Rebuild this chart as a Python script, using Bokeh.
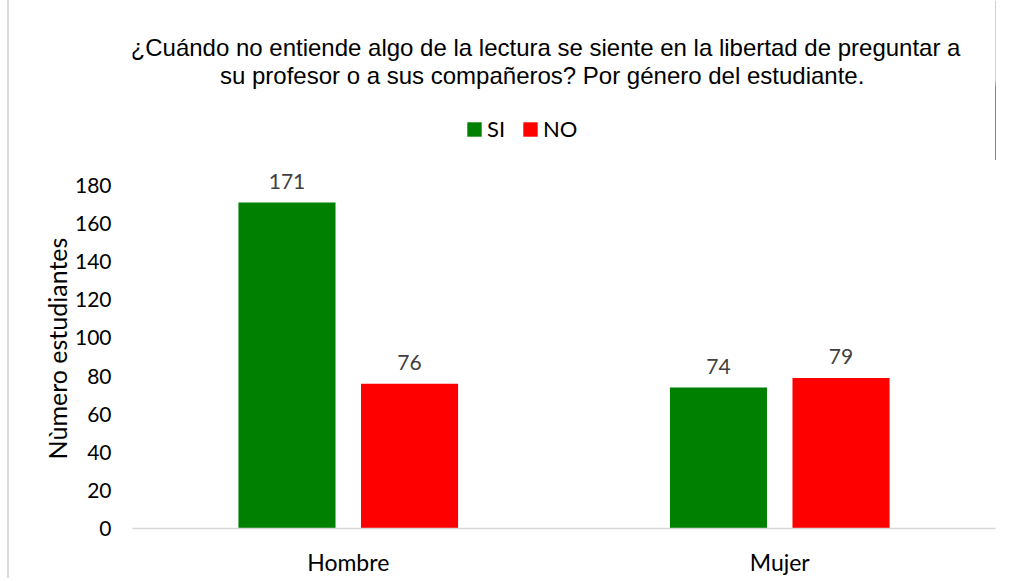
from bokeh.plotting import figure
from bokeh.layouts import column
from bokeh.models import Range1d, FixedTicker, Legend, LegendItem, ColumnDataSource
from bokeh.transform import dodge
from bokeh.core.properties import value
from bokeh.embed import file_html
from bokeh.resources import INLINE

categories = ["Hombre", "Mujer"]
si_values = [171, 74]
no_values = [76, 79]
y_ticks = [0, 20, 40, 60, 80, 100, 120, 140, 160, 180]
series_names = ["SI", "NO"]
title_lines = [
    "¿Cuándo no entiende algo de la lectura se siente en la libertad de preguntar a",
    "su profesor  o a sus compañeros? Por género del estudiante.",
]
y_label = "Nùmero estudiantes"

GREEN = "#008000"
RED = "#FF0000"
FONT = "Lato"

cat_x = [i + 0.5 for i in range(len(categories))]
src = ColumnDataSource(dict(
    x=cat_x,
    si=si_values,
    no=no_values,
    si_lbl=[str(v) for v in si_values],
    no_lbl=[str(v) for v in no_values],
))

W = 992
LEFT = 123                  # figure px where the category axis starts
CAT_PX = 431.5              # px per category
PX_PER_UNIT = 1.906
HEAD_H = 160
MAIN_TOP = 8
MAIN_FRAME_H = 360
MAIN_BOTTOM = 50
box_style = {"margin-left": "7px", "border-left": "2px solid #d9d9d9"}

# ---------- header: title + legend (frame aligned with the chart below) ----------
head = figure(width=W, height=HEAD_H,
              x_range=Range1d(0, len(categories)),
              y_range=Range1d(0, HEAD_H),
              x_axis_location=None, y_axis_location=None,
              output_backend="svg", toolbar_location=None,
              min_border=0)
head.styles = box_style
head.xgrid.visible = False
head.ygrid.visible = False
head.outline_line_color = None

title_x = (545 - 132) / CAT_PX
tsrc = ColumnDataSource(dict(x=[title_x] * len(title_lines),
                             y=[HEAD_H - 47, HEAD_H - 75], t=title_lines))
head.text(x="x", y="y", text="t", source=tsrc, text_align="center",
          text_baseline="middle", text_font=value("Liberation Sans"),
          text_font_size="24px", text_color="#000000")

# legend keys: the same series, with zero width so only the legend swatch shows
k_si = head.vbar(x=dodge("x", 10, range=head.x_range), top="si", width=0,
                 source=src, fill_color=GREEN, line_color=None)
k_no = head.vbar(x=dodge("x", 10, range=head.x_range), top="no", width=0,
                 source=src, fill_color=RED, line_color=None)
legend = Legend(items=[LegendItem(label=series_names[0], renderers=[k_si]),
                       LegendItem(label=series_names[1], renderers=[k_no])],
                orientation="horizontal", location=(333, 18),
                glyph_width=18, glyph_height=18,
                label_text_font=FONT, label_text_font_size="22px",
                label_text_color="#000000",
                padding=0, margin=0, spacing=14, label_standoff=4,
                border_line_color=None, background_fill_alpha=0)
head.add_layout(legend)

# ---------- main chart ----------
p = figure(width=W, height=MAIN_TOP + MAIN_FRAME_H + MAIN_BOTTOM,
           x_range=Range1d(0, len(categories)),
           y_range=Range1d(0, MAIN_FRAME_H / PX_PER_UNIT),
           output_backend="svg", toolbar_location=None,
           min_border_left=LEFT, min_border_right=W - LEFT - int(2 * CAT_PX),
           min_border_top=MAIN_TOP, min_border_bottom=MAIN_BOTTOM)
p.styles = box_style
p.xgrid.visible = False
p.ygrid.visible = False
p.outline_line_color = None

off = 0.142
bw = 0.225
p.vbar(x=dodge("x", -off, range=p.x_range), top="si", width=bw,
       source=src, fill_color=GREEN, line_color=None)
p.vbar(x=dodge("x", off, range=p.x_range), top="no", width=bw,
       source=src, fill_color=RED, line_color=None)

for col, lbl, o in (("si", "si_lbl", -off), ("no", "no_lbl", off)):
    p.text(x=dodge("x", o, range=p.x_range), y=col, text=lbl, source=src,
           y_offset=-21, text_align="center", text_baseline="middle",
           text_font=value(FONT), text_font_size="21px", text_color="#404040")

for ax in (p.xaxis, p.yaxis):
    ax.major_tick_out = 0
    ax.major_tick_in = 0
    ax.minor_tick_out = 0
    ax.minor_tick_in = 0
    ax.major_tick_line_color = None
    ax.minor_tick_line_color = None

p.xaxis.ticker = FixedTicker(ticks=cat_x)
p.xaxis.major_label_overrides = {x: c for x, c in zip(cat_x, categories)}
p.xaxis.axis_line_color = "#d9d9d9"
p.xaxis.axis_line_width = 1.5
p.xaxis.major_label_standoff = 19
p.xaxis.major_label_text_font = FONT
p.xaxis.major_label_text_font_size = "23px"
p.xaxis.major_label_text_color = "#000000"

p.yaxis.ticker = FixedTicker(ticks=y_ticks)
p.yaxis.axis_line_color = None
p.yaxis.major_label_standoff = 21
p.yaxis.major_label_text_font = FONT
p.yaxis.major_label_text_font_size = "21px"
p.yaxis.major_label_text_color = "#000000"
p.yaxis.axis_label = y_label
p.yaxis.axis_label_text_font = FONT
p.yaxis.axis_label_text_font_size = "25px"
p.yaxis.axis_label_text_font_style = "normal"
p.yaxis.axis_label_text_color = "#000000"
p.yaxis.axis_label_standoff = 0

layout = column(head, p, spacing=0)
open("out.html", "w").write(file_html(layout, INLINE))
